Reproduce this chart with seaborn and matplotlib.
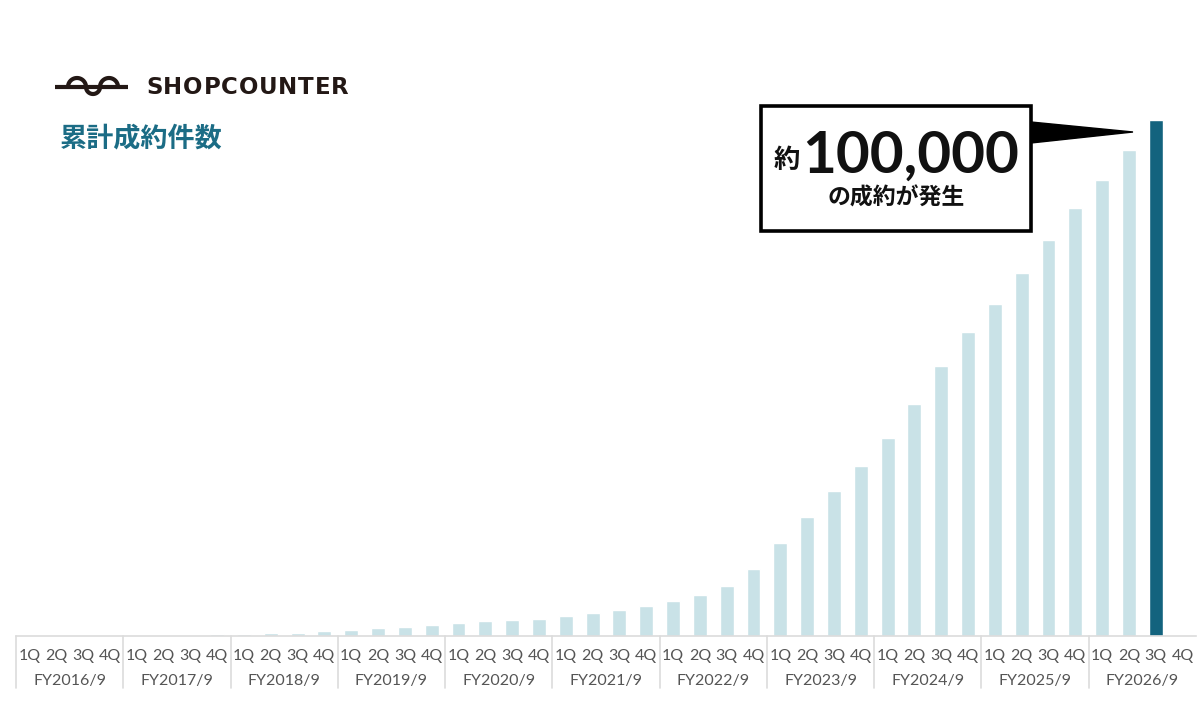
import numpy as np
import pandas as pd
import matplotlib
matplotlib.use("Agg")
import matplotlib.pyplot as plt
import seaborn as sns
from matplotlib.patches import Rectangle, Polygon
from matplotlib.transforms import blended_transform_factory

# ---------------- data ----------------
fiscal_years = ["FY2016/9", "FY2017/9", "FY2018/9", "FY2019/9", "FY2020/9", "FY2021/9",
                "FY2022/9", "FY2023/9", "FY2024/9", "FY2025/9", "FY2026/9"]
quarters = ["1Q", "2Q", "3Q", "4Q"]
# cumulative contracts per quarter (FY2026/9 4Q has no bar)
cumulative = [0, 5, 15, 30,
              60, 140, 190, 250,
              290, 450, 520, 780,
              1030, 1360, 1690, 2130,
              2460, 2770, 2910, 3160,
              3690, 4270, 5040, 5720,
              6750, 7860, 9540, 12840,
              17940, 23050, 28030, 32940,
              38250, 44910, 52340, 58820,
              64310, 70380, 76720, 82990,
              88360, 94180, 100000]
highlight_index = 42

title = "累計成約件数"
brand = "SHOPCOUNTER"
callout_prefix = "約"
callout_value = "100,000"
callout_sub = "の成約が発生"

# ---------------- frame ----------------
slots = [f"{fy} {q}" for fy in fiscal_years for q in quarters]
df = pd.DataFrame({
    "slot": slots[:len(cumulative)],
    "value": cumulative,
    "kind": ["current" if i == highlight_index else "past" for i in range(len(cumulative))],
})

LIGHT = "#c9e2e7"
DARK = "#13637e"
TEAL = "#1b6c85"
GRID = "#dcdcdc"
LABEL = "#555555"

sns.set_theme(style="white")
plt.rcParams["font.family"] = ["Noto Sans CJK JP", "DejaVu Sans"]

W, H = 1200, 706
fig = plt.figure(figsize=(W / 100, H / 100), dpi=100)
fig.patch.set_facecolor("white")

left, right = 16, 1196
top, bottom = 94, 635.5
ax = fig.add_axes([left / W, 1 - bottom / H, (right - left) / W, (bottom - top) / H])

sns.barplot(data=df, x="slot", y="value", hue="kind", order=slots,
            palette={"past": LIGHT, "current": DARK}, width=0.52,
            dodge=False, legend=False, ax=ax, saturation=1)

ax.set_xlim(-0.5, len(slots) - 0.5)
ax.set_ylim(0, 105000)
ax.set_xlabel("")
ax.set_ylabel("")
ax.set_yticks([])
for s in ["top", "right", "left"]:
    ax.spines[s].set_visible(False)
ax.spines["bottom"].set_color(GRID)
ax.spines["bottom"].set_linewidth(1.2)

ax.set_xticks(range(len(slots)))
ax.set_xticklabels([q for _ in fiscal_years for q in quarters],
                   fontsize=11.5, color=LABEL, family=["Lato", "DejaVu Sans"])
ax.tick_params(axis="x", length=0, pad=10)

axes_h = bottom - top
trans = blended_transform_factory(ax.transData, ax.transAxes)
for k in range(len(fiscal_years)):
    xl = -0.5 + 4 * k
    ax.plot([xl, xl], [0, -52 / axes_h], transform=trans, color=GRID,
            lw=1.2, clip_on=False)
    ax.text(xl + 2, -45.5 / axes_h, fiscal_years[k], transform=trans,
            ha="center", va="center", fontsize=11.5, color=LABEL,
            family=["Lato", "DejaVu Sans"])

# ---------------- decorations in pixel space ----------------
ov = fig.add_axes([0, 0, 1, 1], zorder=5)
ov.set_xlim(0, W)
ov.set_ylim(H, 0)
ov.axis("off")
ov.patch.set_alpha(0)

# logo wave
logo_c = "#231815"
ov.plot([55, 128], [87, 87], color=logo_c, lw=3, solid_capstyle="butt")
t = np.linspace(0, np.pi, 40)
ov.plot(77 - 9 * np.cos(t), 87 - 9 * np.sin(t), color=logo_c, lw=3)
ov.plot(93 - 7 * np.cos(t), 87 + 7 * np.sin(t), color=logo_c, lw=3)
ov.plot(109 - 9 * np.cos(t), 87 - 9 * np.sin(t), color=logo_c, lw=3)

# brand name with slight letter spacing
renderer = fig.canvas.get_renderer()
xpos = 146.0
for ch in brand:
    tt = ov.text(xpos, 88, ch, ha="left", va="center", fontsize=16.5, fontweight="bold",
                 color=logo_c, family=["DejaVu Sans"])
    bb = tt.get_window_extent(renderer=renderer)
    xpos += bb.width + 0.8

ov.text(60, 138, title, ha="left", va="center", fontsize=19.5, fontweight="bold",
        color=TEAL)

# callout
ov.add_patch(Rectangle((761, 106), 270, 125, facecolor="white", edgecolor="black",
                       lw=2.6, zorder=6))
ov.add_patch(Polygon([(1031, 122), (1031, 143), (1133, 132)], closed=True,
                     facecolor="black", edgecolor="black", zorder=6))
ov.text(787, 160, callout_prefix, ha="center", va="center", fontsize=19,
        fontweight="bold", color="#111111", zorder=7)
ov.text(911, 173, callout_value, ha="center", va="baseline", fontsize=42,
        fontweight="bold", color="#111111", family=["Lato", "DejaVu Sans"], zorder=7)
ov.text(896, 198, callout_sub, ha="center", va="center", fontsize=16.5,
        fontweight="bold", color="#111111", zorder=7)

fig.savefig("out.png", dpi=100, facecolor="white")
